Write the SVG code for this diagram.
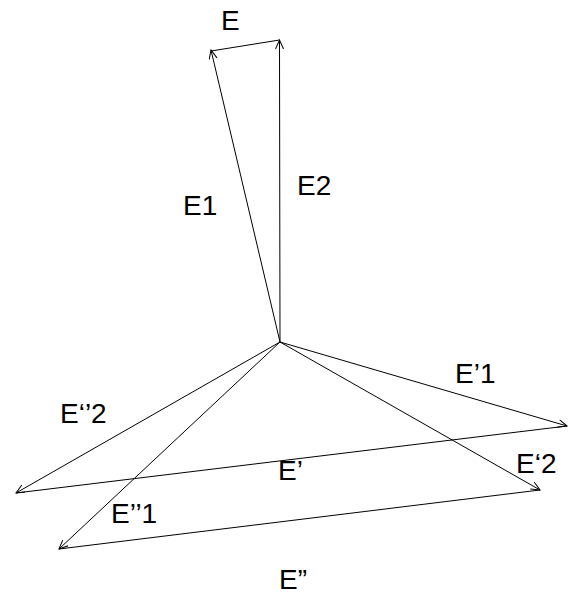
<svg xmlns="http://www.w3.org/2000/svg" width="576" height="595" viewBox="0 0 576 595">
<style>
.v{stroke:#000;stroke-width:1;fill:none;marker-end:url(#ah)}
.l{stroke:#000;stroke-width:1;fill:none}
text{font-family:"Liberation Sans",Arial,sans-serif;font-size:28px;fill:#000}
</style>
<defs>
<marker id="ah" markerUnits="userSpaceOnUse" markerWidth="12" markerHeight="10" refX="9" refY="4" orient="auto">
<path d="M0,0 L9,4 L0,8" fill="none" stroke="#000" stroke-width="1"/>
</marker>
</defs>
<rect width="576" height="595" fill="#fff"/>
<g id="connectors">
<line class="v" x1="280" y1="342" x2="211" y2="50"/>
<line class="v" x1="280" y1="342" x2="279.5" y2="40"/>
<line class="l" x1="211" y1="51" x2="279.5" y2="40"/>
<line class="v" x1="280" y1="342" x2="567" y2="426"/>
<line class="v" x1="280" y1="342" x2="540" y2="490"/>
<line class="v" x1="280" y1="342" x2="16" y2="493"/>
<line class="v" x1="280" y1="342" x2="59" y2="549"/>
<line class="l" x1="16" y1="493" x2="567" y2="426"/>
<line class="l" x1="59" y1="549" x2="540" y2="490"/>
</g>
<g id="E"><text x="221" y="30">E</text></g>
<g id="E1"><text x="183" y="215">E1</text></g>
<g id="E2"><text x="297" y="195">E2</text></g>
<g id="Ep1"><text x="455" y="383">E’1</text></g>
<g id="Ep2"><text x="516" y="473">E‘2</text></g>
<g id="Ep"><text x="278" y="480">E’</text></g>
<g id="Epp2"><text x="60" y="423">E‘’2</text></g>
<g id="Epp1"><text x="111" y="523">E’’1</text></g>
<g id="Epp"><text x="279" y="589">E”</text></g>
</svg>
